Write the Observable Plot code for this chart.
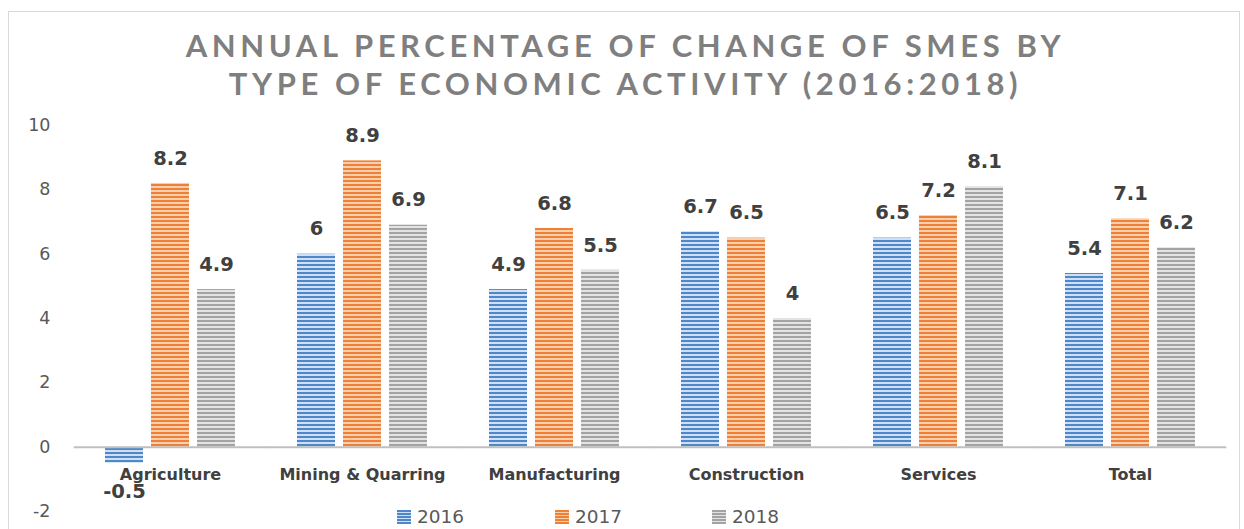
<!DOCTYPE html>
<html>
<head>
<meta charset="utf-8">
<script src="https://cdn.jsdelivr.net/npm/d3@7"></script>
<script src="https://cdn.jsdelivr.net/npm/@observablehq/plot@0.6"></script>
<style>
  html, body { margin: 0; padding: 0; background: #fff; }
  #wrap { position: relative; width: 1244px; height: 529px; overflow: hidden; font-family: Lato, "Open Sans", sans-serif; }
  #frame { position: absolute; left: 8px; top: 11px; width: 1232px; height: 540px; border: 1px solid #d9d9d9; box-sizing: border-box; pointer-events: none; }
  #title { position: relative; height: 100px; text-align: center; color: #7f7f7f; font-weight: bold; font-size: 31px; letter-spacing: 4.6px; line-height: 38px; padding-top: 26px; padding-left: 7px; box-sizing: border-box; }
  #legend { position: absolute; top: 506px; left: 0; width: 1244px; height: 22px; font-size: 18.5px; color: #595959; font-family: "DejaVu Sans", sans-serif; }
  .li { position: absolute; top: 0; display: flex; align-items: center; }
  .sw { width: 14px; height: 14px; margin-right: 6px; }
</style>
</head>
<body>
<div id="wrap">
  <div id="frame"></div>
  <div id="title">ANNUAL PERCENTAGE OF CHANGE OF SMES BY<br>TYPE OF ECONOMIC ACTIVITY (2016:2018)</div>
  <div id="chart"></div>
  <div id="legend"></div>
</div>
<script>
const categories = ["Agriculture", "Mining & Quarring", "Manufacturing", "Construction", "Services", "Total"];
const years = ["2016", "2017", "2018"];
const values2016 = [-0.5, 6, 4.9, 6.7, 6.5, 5.4];
const values2017 = [8.2, 8.9, 6.8, 6.5, 7.2, 7.1];
const values2018 = [4.9, 6.9, 5.5, 4, 8.1, 6.2];
const yTicks = [-2, 0, 2, 4, 6, 8, 10];

const seriesValues = [values2016, values2017, values2018];
const data = [];
categories.forEach((c, i) => {
  years.forEach((y, j) => data.push({category: c, year: y, value: seriesValues[j][i]}));
});

const patterns = {
  "2016": {dark: "#5087cb", light: "#cde0f5"},
  "2017": {dark: "#ee8136", light: "#f8cfae"},
  "2018": {dark: "#a3a3a3", light: "#e3e3e3"}
};

const labelFont = "'DejaVu Sans', sans-serif";

const plot = Plot.plot({
  width: 1244,
  height: 429,
  marginTop: 25,
  marginBottom: 18,
  marginLeft: 72,
  marginRight: 17,
  style: {fontFamily: labelFont, fontSize: "17.5px", color: "#595959", background: "transparent", overflow: "visible"},
  fx: {domain: categories, paddingInner: 0.325, paddingOuter: 0.1625, axis: null, label: null},
  x: {domain: years, paddingInner: 0.174, paddingOuter: 0, axis: null},
  y: {domain: [-2, 10], ticks: yTicks, tickSize: 0, tickPadding: 55, label: null, tickFormat: d => d},
  color: {type: "ordinal", domain: years, range: years.map(y => `url(#pat${y})`)},
  marks: [
    Plot.barY(data, {fx: "category", x: "year", y: "value", fill: "year"}),
    Plot.ruleY([0], {stroke: "#bfbfbf", strokeWidth: 2, insetLeft: -31.3, insetRight: -31.3}),
    Plot.text(categories, {fx: d => d, y: () => 0, text: d => d, dy: 28, fontSize: 16, fontWeight: "bold", fill: "#404040"}),
    Plot.text(data.filter(d => d.value >= 0), {fx: "category", x: "year", y: "value", text: d => String(d.value), dy: -25, fontSize: 19.5, fontWeight: "bold", fill: "#404040"}),
    Plot.text(data.filter(d => d.value < 0), {fx: "category", x: "year", y: "value", text: d => String(d.value), dy: 28, fontSize: 19.5, fontWeight: "bold", fill: "#404040"})
  ]
});

// Striped pattern definitions used by the color scale range
const ns = "http://www.w3.org/2000/svg";
const defs = document.createElementNS(ns, "defs");
for (const y of years) {
  const p = patterns[y];
  const pat = document.createElementNS(ns, "pattern");
  pat.setAttribute("id", `pat${y}`);
  pat.setAttribute("patternUnits", "userSpaceOnUse");
  pat.setAttribute("width", "4");
  pat.setAttribute("height", "4");
  const r1 = document.createElementNS(ns, "rect");
  r1.setAttribute("width", "4"); r1.setAttribute("height", "4"); r1.setAttribute("fill", p.dark);
  const r2 = document.createElementNS(ns, "rect");
  r2.setAttribute("y", "2"); r2.setAttribute("width", "4"); r2.setAttribute("height", "2"); r2.setAttribute("fill", p.light);
  pat.appendChild(r1); pat.appendChild(r2);
  defs.appendChild(pat);
}
plot.insertBefore(defs, plot.firstChild);
document.getElementById("chart").appendChild(plot);

// Legend
const legendPos = {"2016": 397, "2017": 555, "2018": 712};
const legend = document.getElementById("legend");
for (const y of years) {
  const item = document.createElement("div");
  item.className = "li";
  item.style.left = legendPos[y] + "px";
  const sw = document.createElement("div");
  sw.className = "sw";
  sw.style.background = `repeating-linear-gradient(to bottom, ${patterns[y].dark} 0 2px, ${patterns[y].light} 2px 3px)`;
  item.appendChild(sw);
  const t = document.createElement("span");
  t.textContent = y;
  item.appendChild(t);
  legend.appendChild(item);
}
</script>
</body>
</html>
